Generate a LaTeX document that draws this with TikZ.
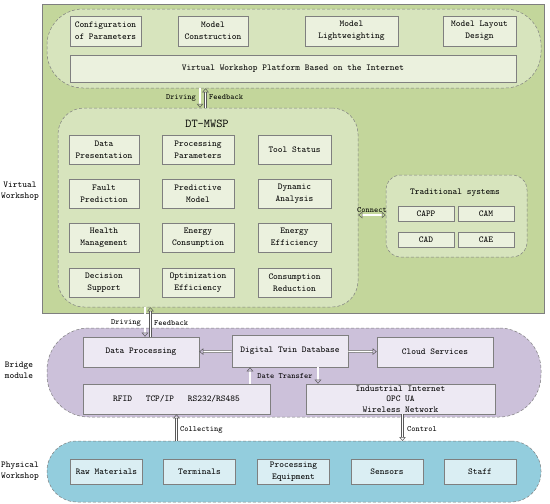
\documentclass[tikz,border=0pt]{standalone}
\usepackage{amsmath}
\usetikzlibrary{arrows.meta}

\definecolor{vwgreen}{HTML}{C3D69B}
\definecolor{ovgreen}{HTML}{D7E4BD}
\definecolor{bxgreen}{HTML}{EBF1DE}
\definecolor{bmpurple}{HTML}{CCC1DA}
\definecolor{bxpurple}{HTML}{EDE9F3}
\definecolor{pwblue}{HTML}{93CDDD}
\definecolor{bxblue}{HTML}{DAEEF3}
\definecolor{edgegray}{HTML}{7F7F7F}

\tikzset{
  box/.style={draw=edgegray, line width=0.6pt, inner sep=0pt, align=center,
    font=\fontsize{9}{12}\selectfont\ttfamily},
  gbox/.style={box, fill=bxgreen, minimum height=29pt},
  pbox/.style={box, fill=bxpurple, minimum height=30pt},
  bbox/.style={box, fill=bxblue, minimum height=25pt, minimum width=72pt},
  zone/.style={draw=edgegray, dash pattern=on 3pt off 2pt, line width=0.5pt, inner sep=0pt},
  flow/.style={draw=gray!70!black, double=white, double distance=1.6pt, line width=0.5pt,
    -{Triangle[open,length=4pt,width=6.5pt]}},
  lbl/.style={font=\fontsize{8}{10}\selectfont\ttfamily, inner sep=1pt},
  side/.style={align=center, font=\fontsize{9}{11}\selectfont\ttfamily}
}

\begin{document}
\begin{tikzpicture}[x=1pt, y=-1pt]
  \useasboundingbox (0,0) rectangle (550,504);

  % virtual workshop
  \node[draw=edgegray, fill=vwgreen, line width=0.5pt, minimum width=502pt, minimum height=309pt] (vw) at (293,158.5) {};
  \node[zone, fill=ovgreen, rounded corners=36pt, minimum width=494pt, minimum height=79pt] (platzone) at (294,48.5) {};
  \node[gbox, minimum width=71pt, minimum height=30pt] (conf) at (105.5,31) {Configuration\\of Parameters};
  \node[gbox, minimum width=70pt, minimum height=30pt] (cons) at (213,31) {Model\\Construction};
  \node[gbox, minimum width=93pt, minimum height=30pt] (light) at (351.5,31) {Model\\Lightweighting};
  \node[gbox, minimum width=73pt, minimum height=30pt] (layout) at (479.5,31) {Model Layout\\Design};
  \node[gbox, minimum width=446pt, minimum height=27pt] (plat) at (293,68.5) {Virtual Workshop Platform Based on the Internet};

  \node[zone, fill=ovgreen, rounded corners=26pt, minimum width=300pt, minimum height=199pt] (dt) at (208,207.5) {};
  \node[font=\fontsize{12}{14}\selectfont\ttfamily] (dttitle) at (207,124) {DT-MWSP};
  \node[gbox, minimum width=70pt] (datap) at (104,150) {Data\\Presentation};
  \node[gbox, minimum width=72pt] (procp) at (198,150) {Processing\\Parameters};
  \node[gbox, minimum width=73pt] (tool) at (294.5,150) {Tool Status};
  \node[gbox, minimum width=70pt] (fault) at (104,193.5) {Fault\\Prediction};
  \node[gbox, minimum width=72pt] (pred) at (198,193.5) {Predictive\\Model};
  \node[gbox, minimum width=73pt] (dyn) at (294.5,193.5) {Dynamic\\Analysis};
  \node[gbox, minimum width=70pt] (health) at (104,238) {Health\\Management};
  \node[gbox, minimum width=72pt] (econs) at (198,238) {Energy\\Consumption};
  \node[gbox, minimum width=73pt] (eeff) at (294.5,238) {Energy\\Efficiency};
  \node[gbox, minimum width=70pt] (decis) at (104,282.5) {Decision\\Support};
  \node[gbox, minimum width=72pt] (opt) at (198,282.5) {Optimization\\Efficiency};
  \node[gbox, minimum width=73pt] (cred) at (294.5,282.5) {Consumption\\Reduction};

  \node[zone, fill=ovgreen, rounded corners=15pt, minimum width=141pt, minimum height=82pt] (trad) at (456.5,216) {};
  \node[font=\fontsize{9}{11}\selectfont\ttfamily] (tradtitle) at (455,193) {Traditional systems};
  \node[gbox, minimum width=56pt, minimum height=15pt] (capp) at (426,213.5) {CAPP};
  \node[gbox, minimum width=56pt, minimum height=15pt] (cam) at (486,213.5) {CAM};
  \node[gbox, minimum width=56pt, minimum height=15pt] (cad) at (426,239.5) {CAD};
  \node[gbox, minimum width=56pt, minimum height=15pt] (cae) at (486,239.5) {CAE};

  \draw[flow, {Triangle[open,length=4pt,width=6.5pt]}-{Triangle[open,length=4pt,width=6.5pt]}] (dt.east |- 0,215) -- (trad.west |- 0,215)
    node[lbl, midway, above=1pt] {Connect};

  % driving / feedback (top)
  \draw[flow] (platzone.south -| 200,0) -- (dt.north -| 200,0);
  \draw[flow] (dt.north -| 205.5,0) -- (platzone.south -| 205.5,0);
  \node[lbl, anchor=east] (drv1) at (197,97.5) {Driving};
  \node[lbl, anchor=west] (fb1) at (208,97.5) {Feedback};

  % bridge module
  \node[zone, fill=bmpurple, rounded corners=42pt, minimum width=494pt, minimum height=89pt] (bm) at (294,372.5) {};
  \node[pbox, minimum width=116pt] (dproc) at (141,352) {Data Processing};
  \node[pbox, minimum width=116pt, minimum height=32pt] (dtdb) at (290,351) {Digital Twin Database};
  \node[pbox, minimum width=116pt] (cloud) at (435,352) {Cloud Services};
  \node[pbox, minimum width=187pt] (rfid) at (176.5,399) {RFID\quad\ TCP/IP\quad\ RS232/RS485};
  \node[pbox, minimum width=189pt, font=\fontsize{9}{10.5}\selectfont\ttfamily] (iiot) at (400.5,399) {Industrial Internet\\OPC UA\\Wireless Network};

  \draw[flow] (dtdb) -- (dproc);
  \draw[flow] (dtdb) -- (cloud);
  \draw[flow] (rfid.north -| 250,0) -- (dtdb.south -| 250,0);
  \draw[flow] (dtdb.south -| 318,0) -- (iiot.north -| 318,0);
  \node[lbl] (dtrans) at (285,376) {Date Transfer};

  % driving / feedback (bottom)
  \draw[flow] (dt.south -| 145,0) -- (dproc.north -| 145,0);
  \draw[flow] (dproc.north -| 150.5,0) -- (dt.south -| 150.5,0);
  \node[lbl, anchor=east] (drv2) at (142,323) {Driving};
  \node[lbl, anchor=west] (fb2) at (153,323) {Feedback};

  % physical workshop
  \node[zone, fill=pwblue, rounded corners=30pt, minimum width=494pt, minimum height=61pt] (pw) at (294,471.5) {};
  \node[bbox] (raw) at (106.5,471.5) {Raw Materials};
  \node[bbox] (term) at (199.5,471.5) {Terminals};
  \node[bbox] (equip) at (293.5,471.5) {Processing\\Equipment};
  \node[bbox] (sens) at (387,471.5) {Sensors};
  \node[bbox] (staff) at (480,471.5) {Staff};

  \coordinate (ctrltop) at (402.5,414);
  \coordinate (ctrlend) at (402.5,441);
  \draw[flow] (rfid.south |- pw.north) -- (rfid.south);
  \draw[flow] (ctrltop) -- (ctrlend);
  \node[lbl, anchor=west] (coll) at (179,430) {Collecting};
  \node[lbl, anchor=west] (ctrl) at (406,429) {Control};

  % layer names
  \node[side] (vwname) at (20,191) {Virtual\\Workshop};
  \node[side] (bmname) at (19,370) {Bridge\\module};
  \node[side] (pwname) at (20,471) {Physical\\Workshop};
\end{tikzpicture}
\end{document}
